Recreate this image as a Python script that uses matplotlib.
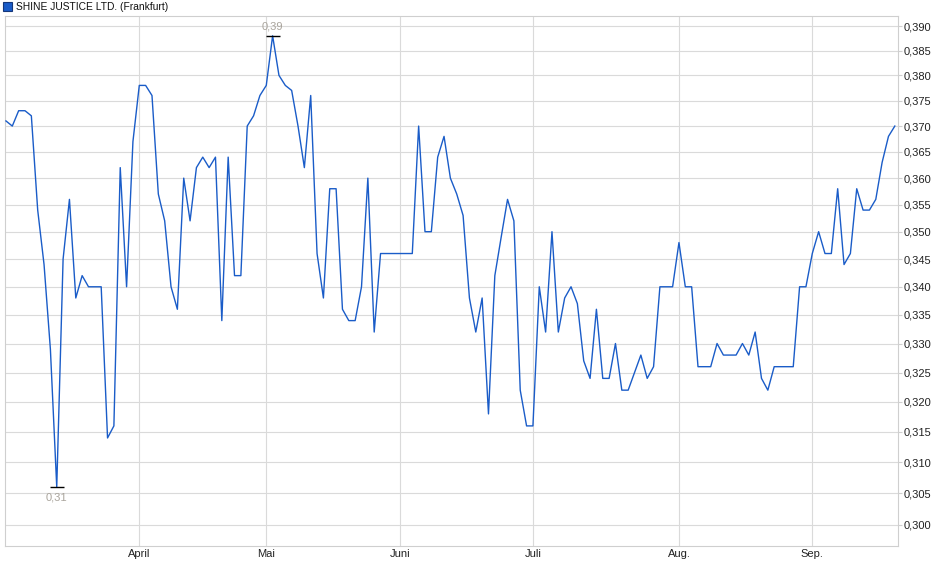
import matplotlib
matplotlib.use("Agg")
import matplotlib.pyplot as plt
from matplotlib.patches import Rectangle
from matplotlib.ticker import FixedLocator, NullLocator
import numpy as np
import pandas as pd

plt.rcParams['font.family'] = ['Liberation Sans', 'DejaVu Sans']

# chart data (Frankfurt closing prices, EUR)
title = "SHINE JUSTICE LTD. (Frankfurt)"
holidays = ['2025-04-18', '2025-04-21', '2025-05-01']
prices = [
    0.371, 0.370, 0.373, 0.373, 0.372, 0.354, 0.344, 0.329, 0.306, 0.345,
    0.356, 0.338, 0.342, 0.340, 0.340, 0.340, 0.314, 0.316, 0.362, 0.340,
    0.367, 0.378, 0.378, 0.376, 0.357, 0.352, 0.340, 0.336, 0.360, 0.352,
    0.362, 0.364, 0.362, 0.364, 0.334, 0.364, 0.342, 0.342, 0.370, 0.372,
    0.376, 0.378, 0.388, 0.380, 0.378, 0.377, 0.370, 0.362, 0.376, 0.346,
    0.338, 0.358, 0.358, 0.336, 0.334, 0.334, 0.340, 0.360, 0.332, 0.346,
    0.346, 0.346, 0.346, 0.346, 0.346, 0.370, 0.350, 0.350, 0.364, 0.368,
    0.360, 0.357, 0.353, 0.338, 0.332, 0.338, 0.318, 0.342, 0.349, 0.356,
    0.352, 0.322, 0.316, 0.316, 0.340, 0.332, 0.350, 0.332, 0.338, 0.340,
    0.337, 0.327, 0.324, 0.336, 0.324, 0.324, 0.330, 0.322, 0.322, 0.325,
    0.328, 0.324, 0.326, 0.340, 0.340, 0.340, 0.348, 0.340, 0.340, 0.326,
    0.326, 0.326, 0.330, 0.328, 0.328, 0.328, 0.330, 0.328, 0.332, 0.324,
    0.322, 0.326, 0.326, 0.326, 0.326, 0.340, 0.340, 0.346, 0.350, 0.346,
    0.346, 0.358, 0.344, 0.346, 0.358, 0.354, 0.354, 0.356, 0.363, 0.368,
    0.370,
]
month_labels = ['April', 'Mai', 'Juni', 'Juli', 'Aug.', 'Sep.']
y_ticks = [0.300 + 0.005 * k for k in range(19)]

# trading days -> index positions
days = pd.bdate_range('2025-03-03', periods=len(prices) + len(holidays) + 10)
days = days[~days.isin(pd.to_datetime(holidays))][:len(prices)]
x = np.arange(len(prices))
month_pos = [int(np.argmax(days.month == m)) for m in range(4, 10)]

fig = plt.figure(figsize=(9.40, 5.79), dpi=100)
ax = fig.add_axes([5 / 940, 1 - 546 / 579, 893 / 940, 530 / 579])

ax.plot(x, prices, color='#1a5cc8', lw=1.0, zorder=3)

ax.set_yscale('log')
ax.set_ylim(0.29665, 0.39206)
ax.set_xlim(-0.15, 140.5)

ax.yaxis.set_major_locator(FixedLocator(y_ticks))
ax.yaxis.set_minor_locator(NullLocator())
ax.set_yticklabels([f"{v:.3f}".replace('.', ',') for v in y_ticks])
ax.yaxis.tick_right()
ax.tick_params(axis='y', length=3, color='#d0d0d0', pad=1, labelsize=8, labelcolor='#222222')

ax.set_xticks(month_pos)
ax.set_xticklabels(month_labels)
ax.tick_params(axis='x', length=0, pad=2, labelsize=8, labelcolor='#222222')

ax.grid(True, color='#dadada', lw=0.8)
ax.set_axisbelow(True)
for s in ax.spines.values():
    s.set_color('#cfcfcf')
    s.set_linewidth(0.8)

# min / max markers
imin = int(np.argmin(prices))
imax = int(np.argmax(prices))
for i, dy in [(imin, -10), (imax, 9)]:
    ax.plot(x[i], prices[i], marker='_', ms=10, mew=1, color='black', zorder=4)
    ax.annotate(f"{prices[i]:.2f}".replace('.', ','), (x[i], prices[i]),
                xytext=(0, dy), textcoords='offset pixels', ha='center', va='center',
                fontsize=8, color='#a9a49c')

# legend square + title
fig.add_artist(Rectangle((3 / 940, 1 - 11 / 579), 9 / 940, 9 / 579,
                         transform=fig.transFigure, facecolor='#1a5cc8',
                         edgecolor='#15377a', lw=0.8))
fig.text(16 / 940, 1 - 7 / 579, title, fontsize=7.4, va='center', ha='left', color='#111111')

fig.savefig('out.png', dpi=100)
